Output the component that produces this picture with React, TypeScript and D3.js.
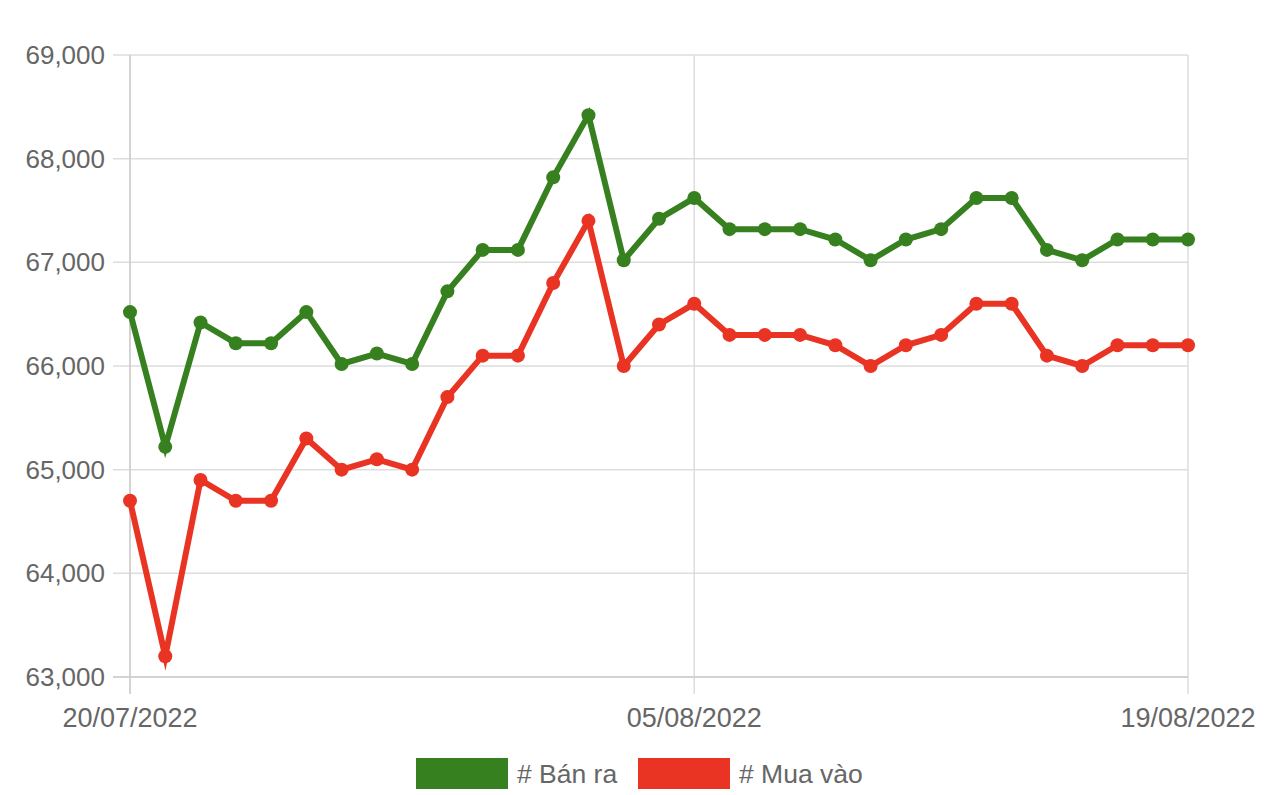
import React from "react";
import * as d3 from "d3";

const dates = [
  "20/07/2022","21/07/2022","22/07/2022","23/07/2022","24/07/2022","25/07/2022","26/07/2022","27/07/2022",
  "28/07/2022","29/07/2022","30/07/2022","31/07/2022","01/08/2022","02/08/2022","03/08/2022","04/08/2022",
  "05/08/2022","06/08/2022","07/08/2022","08/08/2022","09/08/2022","10/08/2022","11/08/2022","12/08/2022",
  "13/08/2022","14/08/2022","15/08/2022","16/08/2022","17/08/2022","18/08/2022","19/08/2022",
];
const banRa = [
  66520, 65220, 66420, 66220, 66220, 66520, 66020, 66120, 66020, 66720, 67120, 67120, 67820, 68420, 67020, 67420,
  67620, 67320, 67320, 67320, 67220, 67020, 67220, 67320, 67620, 67620, 67120, 67020, 67220, 67220, 67220,
];
const muaVao = [
  64700, 63200, 64900, 64700, 64700, 65300, 65000, 65100, 65000, 65700, 66100, 66100, 66800, 67400, 66000, 66400,
  66600, 66300, 66300, 66300, 66200, 66000, 66200, 66300, 66600, 66600, 66100, 66000, 66200, 66200, 66200,
];
const yTicks = [63000, 64000, 65000, 66000, 67000, 68000, 69000];
const xTickLabels = ["20/07/2022", "05/08/2022", "19/08/2022"];
const seriesNames = ["# Bán ra", "# Mua vào"];
const seriesColors = ["#37801f", "#e93323"];

export default function App() {
  const W = 1280, H = 795;
  const left = 130, right = 1188, top = 55, bottom = 677;
  const x = d3.scalePoint<string>().domain(dates).range([left, right]);
  const y = d3.scaleLinear().domain([63000, 69000]).range([bottom, top]);
  const fmt = d3.format(",");
  const line = d3.line<number>().x((_, i) => x(dates[i])!).y((v) => y(v));
  const series = [banRa, muaVao];
  const font = "'Liberation Sans', Arial, Helvetica, sans-serif";
  const grid = "#dddddd";
  const legendItems = [
    { rx: 416, tx: 517 },
    { rx: 638, tx: 739 },
  ];
  return (
    <svg width={W} height={H} style={{ position: "absolute", left: 0, top: 0, background: "#fff" }} fontFamily={font}>
      {yTicks.map((t) => (
        <g key={t}>
          <line x1={113} x2={right} y1={y(t)} y2={y(t)} stroke={grid} strokeWidth={1.5} />
          <text x={105} y={y(t)} dy="0.35em" textAnchor="end" fontSize={26} fill="#666">{fmt(t)}</text>
        </g>
      ))}
      {xTickLabels.map((d) => (
        <g key={d}>
          <line x1={x(d)} x2={x(d)} y1={top} y2={bottom + 17} stroke={grid} strokeWidth={1.5} />
          <text x={x(d)} y={718} dy="0.35em" textAnchor="middle" fontSize={27} fill="#666">{d}</text>
        </g>
      ))}
      <line x1={left} x2={left} y1={top} y2={bottom + 17} stroke="#cccccc" strokeWidth={1.5} />
      <line x1={113} x2={right} y1={bottom} y2={bottom} stroke="#cccccc" strokeWidth={1.5} />
      {series.map((s, si) => (
        <g key={si}>
          <path d={line(s)!} fill="none" stroke={seriesColors[si]} strokeWidth={6} strokeLinejoin="miter" strokeMiterlimit={10} />
          {s.map((v, i) => (
            <circle key={i} cx={x(dates[i])} cy={y(v)} r={7} fill={seriesColors[si]} />
          ))}
        </g>
      ))}
      {legendItems.map((l, i) => (
        <g key={i}>
          <rect x={l.rx} y={758} width={92} height={31} fill={seriesColors[i]} />
          <text x={l.tx} y={774} dy="0.35em" fontSize={26.5} fill="#666">{seriesNames[i]}</text>
        </g>
      ))}
    </svg>
  );
}
